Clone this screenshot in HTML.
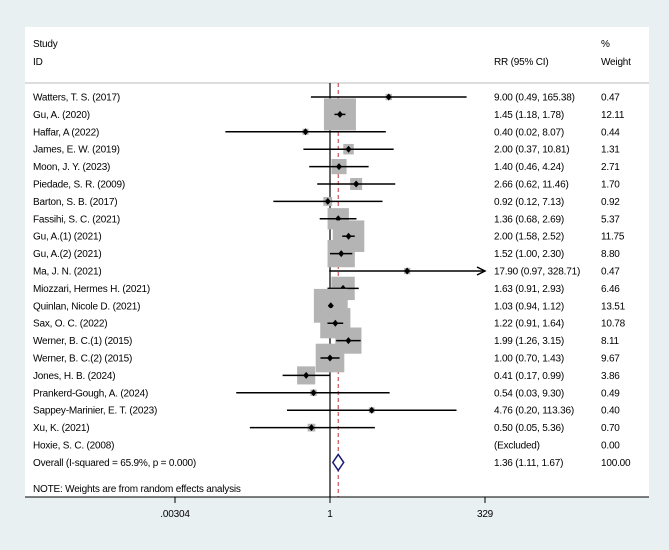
<!DOCTYPE html>
<html><head><meta charset="utf-8"><style>
html,body{margin:0;padding:0;background:#e9f0f2;}
svg{display:block;font-family:"Liberation Sans",Arial,sans-serif;}
text{font-size:10px;fill:#000;letter-spacing:-0.2px;}
</style></head><body>
<svg id="chart" width="669" height="550" viewBox="0 0 669 550" xmlns="http://www.w3.org/2000/svg">
<rect x="0" y="0" width="669" height="550" fill="#e9f0f2"/>
<rect x="25" y="27" width="624" height="470" fill="#ffffff"/>
<text x="33" y="47">Study</text>
<text x="33" y="65">ID</text>
<text x="494" y="65">RR (95% CI)</text>
<text x="601" y="47">%</text>
<text x="601" y="65">Weight</text>
<line x1="25" y1="83" x2="649" y2="83" stroke="#bbbbbb" stroke-width="1"/>
<g id="marks"></g>
<text x="33" y="492">NOTE: Weights are from random effects analysis</text>
<line x1="25" y1="497" x2="649" y2="497" stroke="#000" stroke-width="1"/>
<g id="axis"></g>
</svg>
<script>
const studies = ["Watters, T. S. (2017)","Gu, A. (2020)","Haffar, A (2022)","James, E. W. (2019)","Moon, J. Y. (2023)","Piedade, S. R. (2009)","Barton, S. B. (2017)","Fassihi, S. C. (2021)","Gu, A.(1) (2021)","Gu, A.(2) (2021)","Ma, J. N. (2021)","Miozzari, Hermes H. (2021)","Quinlan, Nicole D. (2021)","Sax, O. C. (2022)","Werner, B. C.(1) (2015)","Werner, B. C.(2) (2015)","Jones, H. B. (2024)","Prankerd-Gough, A. (2024)","Sappey-Marinier, E. T. (2023)","Xu, K. (2021)","Hoxie, S. C. (2008)"];
const rr =    [9.00,1.45,0.40,2.00,1.40,2.66,0.92,1.36,2.00,1.52,17.90,1.63,1.03,1.22,1.99,1.00,0.41,0.54,4.76,0.50,null];
const lower = [0.49,1.18,0.02,0.37,0.46,0.62,0.12,0.68,1.58,1.00,0.97,0.91,0.94,0.91,1.26,0.70,0.17,0.03,0.20,0.05,null];
const upper = [165.38,1.78,8.07,10.81,4.24,11.46,7.13,2.69,2.52,2.30,328.71,2.93,1.12,1.64,3.15,1.43,0.99,9.30,113.36,5.36,null];
const weights = [0.47,12.11,0.44,1.31,2.71,1.70,0.92,5.37,11.75,8.80,0.47,6.46,13.51,10.78,8.11,9.67,3.86,0.49,0.40,0.70,0.00];
const overall = [1.36,1.11,1.67];
const overallLabel = "Overall  (I-squared = 65.9%, p = 0.000)";
const tickVals = [0.00304,1,329];
const tickLabels = [".00304","1","329"];

const NS="http://www.w3.org/2000/svg";
const xMin=Math.log(0.00304), xMax=Math.log(329);
function xs(v){return 175+(Math.log(v)-xMin)/(xMax-xMin)*310;}
function ys(i){return 97+i*17.4;}
function mk(tag,attrs,parent){const e=document.createElementNS(NS,tag);for(const k in attrs)e.setAttribute(k,attrs[k]);parent.appendChild(e);return e;}
const g=document.getElementById('marks'), ax=document.getElementById('axis');
const f2=v=>v.toFixed(2);

let nl=mk('line',{x1:xs(1),y1:83,x2:xs(1),y2:497,stroke:'#000','stroke-width':1.2},g);


let ol=mk('line',{x1:xs(overall[0]),y1:83,x2:xs(overall[0]),y2:497,stroke:'#c0303a','stroke-width':1,'stroke-dasharray':'4,3'},g);



studies.forEach((s,i)=>{
  const y=ys(i);
  let t=mk('text',{x:33,y:y+3.5},g); t.textContent=s;
  
  
  let r=mk('text',{x:494,y:y+3.5},g);
  r.textContent = rr[i]==null ? "(Excluded)" : f2(rr[i])+" ("+f2(lower[i])+", "+f2(upper[i])+")";
  
  
  let w=mk('text',{x:601,y:y+3.5},g); w.textContent=f2(weights[i]);
  
  
  if(rr[i]==null) return;
  const cx=xs(rr[i]), side=9.2*Math.sqrt(weights[i]);
  let b=mk('rect',{x:cx-side/2,y:y-side/2,width:side,height:side,fill:'#b4b4b4'},g);
  
  
  const hi=Math.min(xs(upper[i]),485);
  let c=mk('line',{x1:xs(lower[i]),y1:y,x2:hi,y2:y,stroke:'#000','stroke-width':1.5},g);
  
  
  if(xs(upper[i])>=484){
    let a=mk('path',{d:`M${hi-8},${y-4} L${hi},${y} L${hi-8},${y+4}`,fill:'none',stroke:'#000','stroke-width':1.5},g);
    
    
  }
  let p=mk('path',{d:`M${cx},${y-3.5} L${cx+3},${y} L${cx},${y+3.5} L${cx-3},${y} Z`,fill:'#000'},g);
  
  
});
const oy=ys(studies.length);
let olab=mk('text',{x:33,y:oy+3.5},g); olab.textContent=overallLabel;


let ov=mk('text',{x:494,y:oy+3.5},g); ov.textContent=f2(overall[0])+" ("+f2(overall[1])+", "+f2(overall[2])+")";


let ow=mk('text',{x:601,y:oy+3.5},g); ow.textContent="100.00";


let dm=mk('path',{d:`M${xs(overall[1])},${oy} L${xs(overall[0])},${oy-8} L${xs(overall[2])},${oy} L${xs(overall[0])},${oy+8} Z`,fill:'#fff',stroke:'#1a1a7a','stroke-width':1.5},g);



tickVals.forEach((v,i)=>{
  let tk=mk('line',{x1:xs(v),y1:497,x2:xs(v),y2:503,stroke:'#000','stroke-width':1},ax);
  
  
  let tl=mk('text',{x:xs(v),y:517,'text-anchor':'middle'},ax); tl.textContent=tickLabels[i];
  
  
});
</script>
</body></html>
